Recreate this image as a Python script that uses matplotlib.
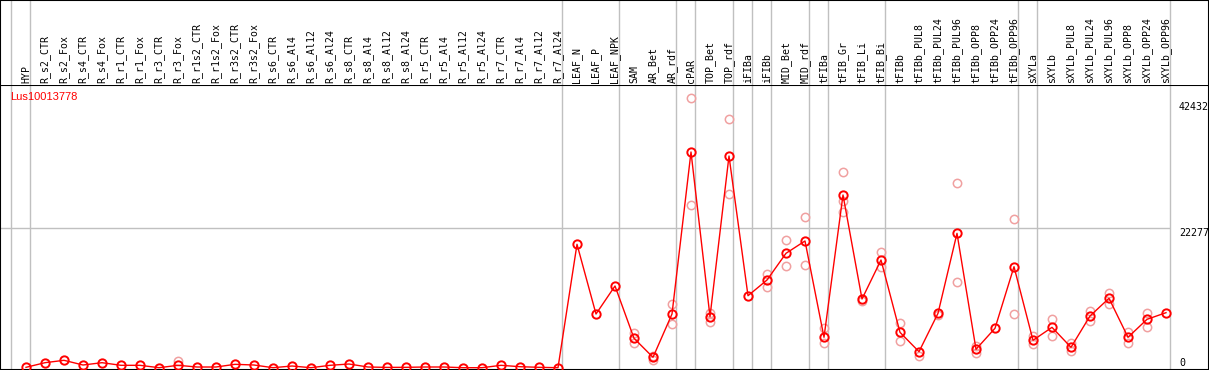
import matplotlib
matplotlib.use("Agg")
import matplotlib.pyplot as plt
import numpy as np

nan = np.nan

# sample names (header row)
samples = ["HYP",
           "R_s2_CTR", "R_s2_Fox", "R_s4_CTR", "R_s4_Fox", "R_r1_CTR", "R_r1_Fox",
           "R_r3_CTR", "R_r3_Fox", "R_r1s2_CTR", "R_r1s2_Fox", "R_r3s2_CTR", "R_r3s2_Fox",
           "R_s6_CTR", "R_s6_Al4", "R_s6_Al12", "R_s6_Al24",
           "R_s8_CTR", "R_s8_Al4", "R_s8_Al12", "R_s8_Al24",
           "R_r5_CTR", "R_r5_Al4", "R_r5_Al12", "R_r5_Al24",
           "R_r7_CTR", "R_r7_Al4", "R_r7_Al12", "R_r7_Al24",
           "LEAF_N", "LEAF_P", "LEAF_NPK", "SAM", "AR_Bet", "AR_rdf", "cPAR",
           "TOP_Bet", "TOP_rdf", "iFIBa", "iFIBb", "MID_Bet", "MID_rdf",
           "tFIBa", "tFIB_Gr", "tFIB_Li", "tFIB_Bi", "tFIBb",
           "tFIBb_PUL8", "tFIBb_PUL24", "tFIBb_PUL96",
           "tFIBb_OPP8", "tFIBb_OPP24", "tFIBb_OPP96",
           "sXYLa", "sXYLb", "sXYLb_PUL8", "sXYLb_PUL24", "sXYLb_PUL96",
           "sXYLb_OPP8", "sXYLb_OPP24", "sXYLb_OPP96"]

# last sample index of each tissue group (-1 = before the first one)
group_ends = [-1, 0, 28, 31, 34, 35, 37, 38, 39, 41, 42, 45, 52, 53, 60]

gene = "Lus10013778"

# mean expression
mean_val = [60, 800, 1180, 430, 800, 380, 380, 0, 380, 110, 110, 540, 430, 0, 270,
            0, 380, 590, 110, 50, 60, 110, 110, 0, 0, 380, 160, 60, 0,
            19720, 8580, 13060, 4700, 1660, 8580, 34470, 8150, 33830, 11500,
            14010, 18280, 20250, 4860, 27600, 10980, 17210, 5650,
            2560, 8690, 21470, 2940, 6300, 16140,
            4380, 6450, 3260, 8260, 11090, 4860, 7730, 8790]

# replicates (nan = hidden behind the mean marker)
rep_hi = [nan] * 8 + [1070] + [nan] * 20 + \
         [nan, nan, nan, 5500, 1920, 10180, 43050, 8790, 39690, nan,
          14930, 20410, 24030, 6300, 31220, 10700, 18440, 7090,
          nan, nan, 29470, 3400, nan, 23710,
          5110, 7780, 4000, 9060, 11990, 5750, 8790, nan]
rep_lo = [nan] * 29 + \
         [nan, nan, nan, 3900, 1230, 6980, 26000, 7250, 27760, nan,
          12950, 16250, 16410, 3900, 24930, nan, 16140, 4310,
          1920, 8500, 13650, 2400, nan, 8530,
          3790, 5070, 2670, 7460, 10180, 4000, 6450, nan]
rep_mid = [nan] * 43 + [26640] + [nan] * 17

y_ticks = [0, 22277, 42432]

x = np.arange(len(samples))

W, H = 1209, 370
head = 85
fig = plt.figure(figsize=(W / 100, H / 100), dpi=100)
ax = fig.add_axes([0, 0, 1, (H - head) / H])
hx = fig.add_axes([0, (H - head) / H, 1, head / H], sharex=ax)

x0 = -26 / 19
x1 = (W - 26) / 19
ax.set_xlim(x0, x1)
ax.set_ylim(-368, 45176)

grey = "#c0c0c0"
for g in group_ends:
    ax.axvline(g + 0.22, color=grey, lw=1, zorder=1)
    hx.axvline(g + 0.22, color=grey, lw=1, zorder=1)
ax.hlines(22277, x0, group_ends[-1] + 0.22, color=grey, lw=1, zorder=1)

pink = "#f0a0a0"
for r in [rep_hi, rep_lo, rep_mid]:
    ax.plot(x, r, ls="none", marker="o", ms=6, mfc="none", mec=pink, mew=1.1, zorder=2)
ax.plot(x, mean_val, color="#ff0000", lw=1, marker="o", ms=6, mfc="none",
        mec="#ff0000", mew=1.4, zorder=3)

mono = ["DejaVu Sans Mono"]
for t in y_ticks:
    ax.text(1179 / W, t, str(t), transform=ax.get_yaxis_transform(),
            ha="left", va="top" if t > 0 else "bottom", fontsize=7.2,
            family=mono, color="black")

ax.text(10 / W, 1 - 7 / (H - head), gene, transform=ax.transAxes, ha="left", va="top",
        fontsize=8, family=["Liberation Sans"], color="#ff0000")

for i, s in enumerate(samples):
    hx.text(i, 2 / head, s, transform=hx.get_xaxis_transform(), rotation=90,
            ha="center", va="bottom", fontsize=7.1, family=mono, color="black")

for a in (ax, hx):
    a.set_xticks([])
    a.set_yticks([])
    for sp in a.spines.values():
        sp.set_color("black")
        sp.set_linewidth(1.5)
hx.spines["bottom"].set_visible(False)
hx.set_ylim(0, 1)

fig.savefig("out.png", dpi=100)
